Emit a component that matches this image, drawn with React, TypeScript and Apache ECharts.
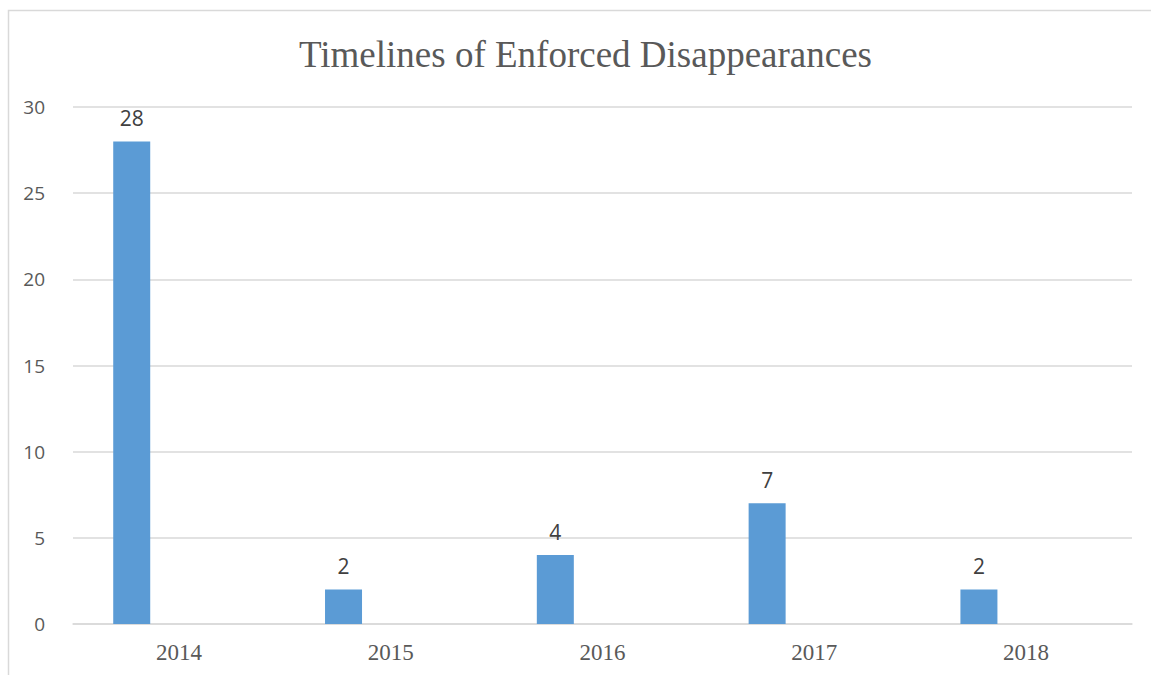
import React, { useEffect, useRef } from "react";
import * as echarts from "echarts";

const titleText = "Timelines of Enforced Disappearances";
const categories = ["2014", "2015", "2016", "2017", "2018"];
const values = [28, 2, 4, 7, 2];
const emptySeries: (number | null)[] = [null, null, null, null, null];
const yMin = 0;
const yMax = 30;
const yInterval = 5;

export default function App() {
  const ref = useRef<HTMLDivElement>(null);
  useEffect(() => {
    if (!ref.current) return;
    const chart = echarts.init(ref.current, null, { renderer: "svg" });
    chart.setOption({
      animation: false,
      backgroundColor: "#ffffff",
      title: {
        text: titleText,
        left: 294,
        top: 31,
        textStyle: {
          fontFamily: "Liberation Serif",
          fontSize: 37,
          fontWeight: "normal",
          color: "#595959",
        },
      },
      graphic: [
        {
          type: "rect",
          shape: { x: 8.5, y: 10.5, width: 1200, height: 700 },
          style: { fill: "none", stroke: "#d9d9d9", lineWidth: 1.5 },
          silent: true,
          z: -1,
        },
      ],
      grid: { left: 73, right: 19, top: 107, bottom: 51, containLabel: false },
      xAxis: {
        type: "category",
        data: categories,
        axisLine: { show: true, lineStyle: { color: "#d9d9d9", width: 1.5 } },
        axisTick: { show: false },
        axisLabel: {
          fontFamily: "Liberation Serif",
          fontSize: 23,
          color: "#595959",
          margin: 17,
        },
      },
      yAxis: {
        type: "value",
        min: yMin,
        max: yMax,
        interval: yInterval,
        axisLine: { show: false },
        axisTick: { show: false },
        splitLine: { lineStyle: { color: "#d9d9d9", width: 1.5 } },
        axisLabel: {
          fontFamily: "Open Sans",
          fontSize: 19,
          color: "#595959",
          margin: 28,
        },
      },
      series: [
        {
          type: "bar",
          data: values,
          barWidth: 37,
          barGap: "155%",
          itemStyle: { color: "#5b9bd5" },
          label: {
            show: true,
            position: "top",
            distance: 13,
            fontFamily: "Open Sans",
            fontSize: 21,
            color: "#404040",
          },
        },
        {
          type: "bar",
          data: emptySeries,
          barWidth: 37,
          itemStyle: { color: "#ed7d31" },
        },
      ],
    });
    return () => chart.dispose();
  }, []);
  return (
    <div
      ref={ref}
      style={{ position: "fixed", left: 0, top: 0, width: 1151, height: 675 }}
    />
  );
}
